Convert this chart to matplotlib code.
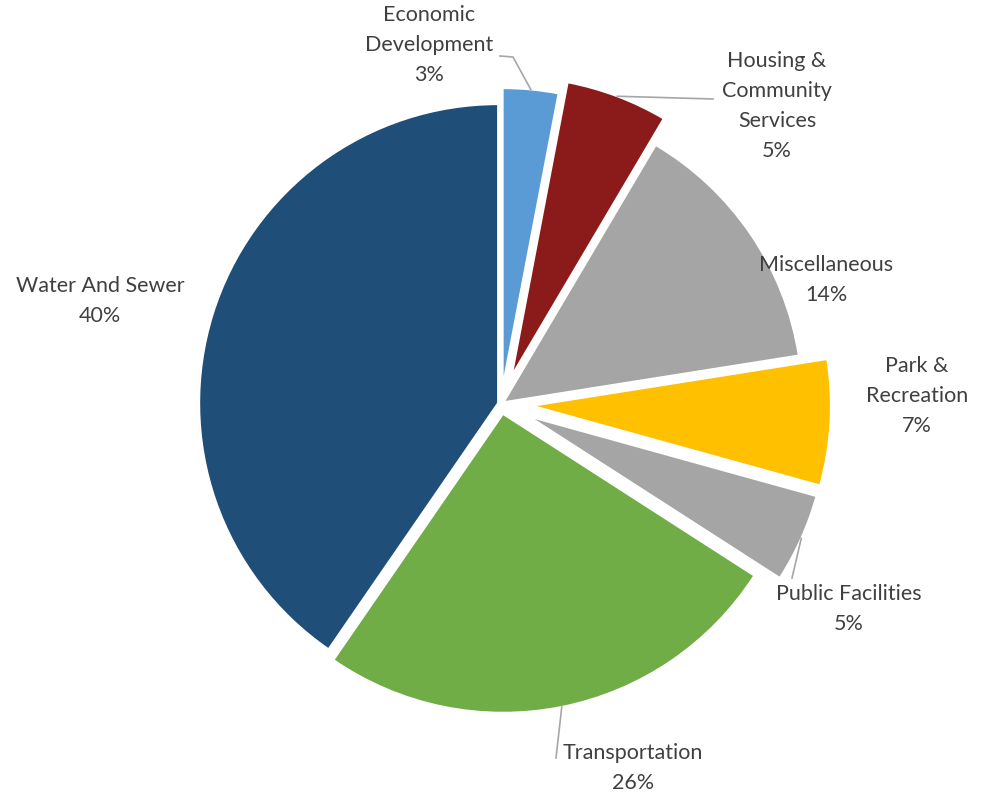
import numpy as np
import matplotlib.pyplot as plt

# data, clockwise from 12 o'clock
categories = ["Economic\nDevelopment", "Housing &\nCommunity\nServices", "Miscellaneous",
              "Park &\nRecreation", "Public Facilities", "Transportation", "Water And Sewer"]
shares = [3.0, 5.5, 14.0, 6.8, 4.8, 25.5, 40.4]
pct_labels = ["3%", "5%", "14%", "7%", "5%", "26%", "40%"]

colors = ["#5B9BD5", "#8B1A1A", "#A5A5A5", "#FFC000", "#A5A5A5", "#70AD47", "#1F4E78"]
explode = [17, 30, 3, 31, 30, 10, 3]   # pixel offsets
TXT = "#404040"
LEAD = "#A6A6A6"

W, H = 985, 794
fig = plt.figure(figsize=(W / 100, H / 100), dpi=100)
ax = fig.add_axes([0, 0, 1, 1])
ax.axis("off")

cx, cy, R = 501, H - 404, 299
wedges, _ = ax.pie(shares, colors=colors, explode=explode, startangle=90,
                   counterclock=False, center=(cx, cy), radius=R,
                   wedgeprops=dict(edgecolor="white", linewidth=1.5))
ax.set_xlim(0, W)
ax.set_ylim(0, H)
ax.set_aspect("equal")

# label text positions in pixels (x, y from top)
label_pos = [(429, 45), (777, 106), (826, 280), (917, 396), (849, 609), (633, 768), (100, 301)]
# elbow/end of leader line for labels that have one
leaders = {0: [(513, 57), (500, 56)], 1: [(713, 99)], 4: [(792, 578)], 5: [(556, 758)]}

for i, (name, pct) in enumerate(zip(categories, pct_labels)):
    x, y = label_pos[i]
    ax.text(x, H - y, name + "\n" + pct, ha="center", va="center", multialignment="center",
            fontsize=15.5, color=TXT, family=["Lato", "DejaVu Sans"], linespacing=1.62)
    if i in leaders:
        w = wedges[i]
        tm = np.deg2rad((w.theta1 + w.theta2) / 2)
        px = w.center[0] + w.r * np.cos(tm)
        py = w.center[1] + w.r * np.sin(tm)
        xs = [px] + [p[0] for p in leaders[i]]
        ys = [py] + [H - p[1] for p in leaders[i]]
        ax.plot(xs, ys, color=LEAD, lw=1.2)

fig.savefig("out.png", dpi=100)
